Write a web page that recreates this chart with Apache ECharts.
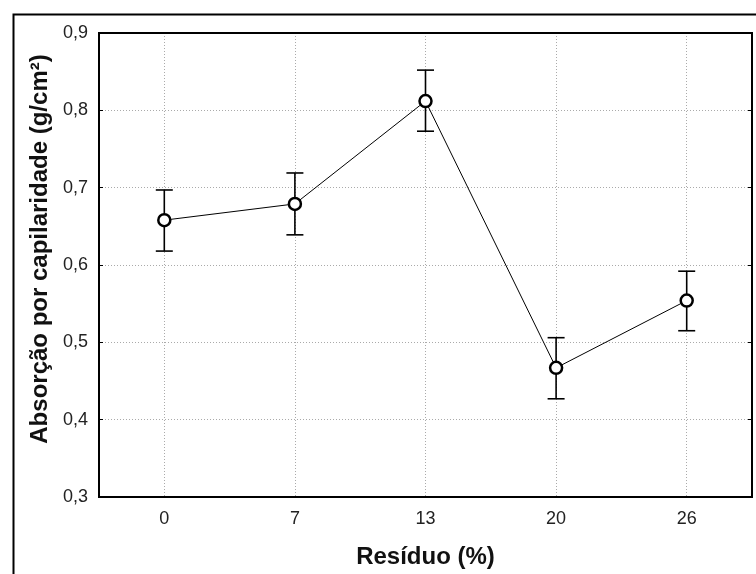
<!DOCTYPE html>
<html>
<head>
<meta charset="utf-8">
<script src="https://cdn.jsdelivr.net/npm/echarts@6/dist/echarts.min.js"></script>
<style>
  html, body { margin: 0; padding: 0; background: #fff; }
  #chart { width: 756px; height: 574px; }
</style>
</head>
<body>
<div id="chart"></div>
<script>
// Resíduo (%) categories
var residuo = ['0', '7', '13', '20', '26'];
// mean absorption (g/cm²)
var media = [0.658, 0.679, 0.812, 0.467, 0.554];
// error bar limits
var limInf = [0.618, 0.639, 0.773, 0.427, 0.515];
var limSup = [0.697, 0.719, 0.852, 0.506, 0.592];

var myChart = echarts.init(document.getElementById('chart'));

var barras = residuo.map(function (c, i) {
    return [i, limInf[i], limSup[i]];
});

var gridLine = {show: true, lineStyle: {color: '#aaa', type: [1, 2], width: 1}};
var tickLabel = {fontFamily: 'Liberation Sans, Arial, sans-serif', fontSize: 18, color: '#222'};
var titleFont = {fontFamily: 'Liberation Sans, Arial, sans-serif', fontSize: 24, fontWeight: 'bold', color: '#111'};

var option = {
    backgroundColor: '#fff',
    animation: false,
    graphic: [{
        type: 'rect', left: 11, top: 12,
        shape: {width: 800, height: 640},
        style: {fill: 'none', stroke: '#000', lineWidth: 2}
    }],
    grid: {left: 99, top: 33, right: 4, bottom: 76, show: true, borderColor: '#000', borderWidth: 2},
    xAxis: [{
        type: 'category', data: residuo, position: 'bottom',
        name: 'Resíduo (%)', nameLocation: 'middle', nameGap: 48, nameTextStyle: titleFont,
        axisLine: {lineStyle: {color: '#000', width: 2}},
        axisTick: {inside: true, alignWithLabel: true, length: 4, lineStyle: {color: '#000'}},
        axisLabel: Object.assign({margin: 13}, tickLabel),
        splitLine: Object.assign({alignWithLabel: true}, gridLine)
    }, {
        type: 'category', data: residuo, position: 'top',
        axisLine: {lineStyle: {color: '#000', width: 2}},
        axisTick: {inside: true, alignWithLabel: true, length: 4, lineStyle: {color: '#000'}},
        axisLabel: {show: false}, splitLine: {show: false}
    }],
    yAxis: [{
        type: 'value', min: 0.3, max: 0.9, interval: 0.1,
        name: 'Absorção por capilaridade (g/cm²)', nameLocation: 'middle', nameGap: 37,
        nameTextStyle: Object.assign({padding: [0, 0, 0, 32]}, titleFont),
        axisLine: {show: true, lineStyle: {color: '#000', width: 2}},
        axisTick: {show: true, inside: true, length: 4, lineStyle: {color: '#000'}},
        axisLabel: Object.assign({margin: 11, formatter: function (v) {
            return v.toFixed(1).replace('.', ',');
        }}, tickLabel),
        splitLine: gridLine
    }, {
        type: 'value', min: 0.3, max: 0.9, interval: 0.1, position: 'right',
        axisLine: {show: true, lineStyle: {color: '#000', width: 2}},
        axisTick: {show: true, inside: true, length: 4, lineStyle: {color: '#000'}},
        axisLabel: {show: false}, splitLine: {show: false}
    }],
    series: [{
        type: 'custom',
        data: barras,
        z: 3,
        renderItem: function (params, api) {
            var x = api.value(0);
            var p1 = api.coord([x, api.value(1)]);
            var p2 = api.coord([x, api.value(2)]);
            var w = 8.5;
            var st = {stroke: '#000', lineWidth: 1.6};
            return {
                type: 'group',
                children: [
                    {type: 'line', shape: {x1: p1[0], y1: p1[1], x2: p2[0], y2: p2[1]}, style: st},
                    {type: 'line', shape: {x1: p1[0] - w, y1: p1[1], x2: p1[0] + w, y2: p1[1]}, style: st},
                    {type: 'line', shape: {x1: p2[0] - w, y1: p2[1], x2: p2[0] + w, y2: p2[1]}, style: st}
                ]
            };
        }
    }, {
        type: 'line',
        data: media,
        z: 4,
        symbol: 'circle', symbolSize: 12,
        lineStyle: {color: '#000', width: 1},
        itemStyle: {color: '#fff', borderColor: '#000', borderWidth: 2.5}
    }]
};
myChart.setOption(option);
</script>
</body>
</html>
